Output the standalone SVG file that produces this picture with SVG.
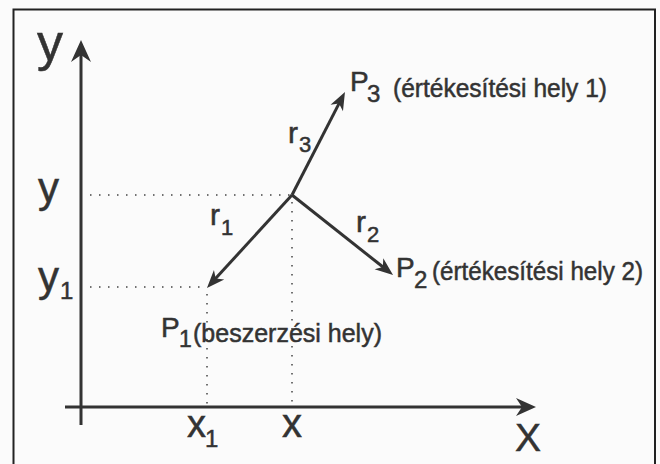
<svg xmlns="http://www.w3.org/2000/svg" width="660" height="464" viewBox="0 0 660 464">
  <style>
    .t { font-family: "Liberation Sans", Arial, Helvetica, sans-serif; fill: #333; stroke: #333; stroke-width: 0.5; }
    .axis { stroke: #333; stroke-width: 3; fill: none; }
    .vec { stroke: #333; stroke-width: 3; fill: none; }
    .dot { stroke: #444; stroke-width: 1.5; stroke-dasharray: 1.5 7.5; fill: none; }
  </style>
  <defs>
    <marker id="ahVec" viewBox="-12 -10 24 20" markerWidth="24" markerHeight="20" refX="0" refY="0" markerUnits="userSpaceOnUse" orient="auto">
      <path d="M10,0 L-8,-7 L-3,0 L-8,7 Z" fill="#333"/>
    </marker>
    <marker id="ahY" viewBox="-14 -12 28 24" markerWidth="28" markerHeight="24" refX="0" refY="0" markerUnits="userSpaceOnUse" orient="auto">
      <path d="M10,0 L-12,-10 L-5,0 L-12,10 Z" fill="#333"/>
    </marker>
    <marker id="ahX" viewBox="-14 -12 28 24" markerWidth="28" markerHeight="24" refX="0" refY="0" markerUnits="userSpaceOnUse" orient="auto">
      <path d="M10,0 L-10,-9 L-4,0 L-10,9 Z" fill="#333"/>
    </marker>
  </defs>
  <rect x="0" y="0" width="660" height="464" fill="#fbfbfb"/>
  <g id="frame">
    <path d="M13.5,470 L13.5,9.5 L655,9.5 L655,470" stroke="#222" stroke-width="2" fill="none"/>
  </g>
  <g id="axes">
    <line class="axis" x1="81" y1="425" x2="81" y2="50" marker-end="url(#ahY)"/>
    <line class="axis" x1="65" y1="407" x2="526" y2="407" marker-end="url(#ahX)"/>
  </g>
  <g id="guides">
    <line class="dot" x1="90" y1="195" x2="290" y2="195"/>
    <line class="dot" x1="292" y1="202" x2="292" y2="404"/>
    <line class="dot" x1="90" y1="287" x2="203" y2="287"/>
    <line class="dot" x1="207" y1="294" x2="207" y2="404"/>
  </g>
  <g id="connectors">
    <line class="vec" x1="292" y1="195" x2="340.4" y2="100.9" marker-end="url(#ahVec)"/>
    <line class="vec" x1="292" y1="195" x2="385.2" y2="268.8" marker-end="url(#ahVec)"/>
    <line class="vec" x1="292" y1="195" x2="213.7" y2="280.6" marker-end="url(#ahVec)"/>
  </g>
  <g id="axis-labels">
    <text class="t" x="37" y="60" font-size="52">y</text>
    <text class="t" x="38" y="202" font-size="42">y</text>
    <text class="t" x="38" y="291" font-size="42">y</text>
    <text class="t" x="60" y="299" font-size="24">1</text>
    <text class="t" x="187" y="437" font-size="38">x</text>
    <text class="t" x="205" y="447" font-size="24">1</text>
    <text class="t" x="282" y="437" font-size="40">x</text>
    <text class="t" x="528" y="451" font-size="39" text-anchor="middle">X</text>
  </g>
  <g id="r-labels">
    <text class="t" x="288" y="143" font-size="30">r</text>
    <text class="t" x="299" y="152" font-size="22">3</text>
    <text class="t" x="210" y="225" font-size="30">r</text>
    <text class="t" x="221" y="235" font-size="22">1</text>
    <text class="t" x="356" y="232" font-size="30">r</text>
    <text class="t" x="367" y="242" font-size="22">2</text>
  </g>
  <g id="node-P3">
    <text class="t" x="350" y="91" font-size="28">P</text>
    <text class="t" x="367" y="102" font-size="24">3</text>
    <text class="t" x="393" y="97" font-size="25.5" textLength="214" lengthAdjust="spacingAndGlyphs">(értékesítési hely 1)</text>
  </g>
  <g id="node-P2">
    <text class="t" x="396" y="277" font-size="28">P</text>
    <text class="t" x="414" y="288" font-size="24">2</text>
    <text class="t" x="432" y="280" font-size="25.5" textLength="211" lengthAdjust="spacingAndGlyphs">(értékesítési hely 2)</text>
  </g>
  <g id="node-P1">
    <text class="t" x="161" y="337" font-size="28">P</text>
    <text class="t" x="179" y="347" font-size="23">1</text>
    <text class="t" x="193" y="342" font-size="25.5" textLength="189" lengthAdjust="spacingAndGlyphs">(beszerzési hely)</text>
  </g>
</svg>
